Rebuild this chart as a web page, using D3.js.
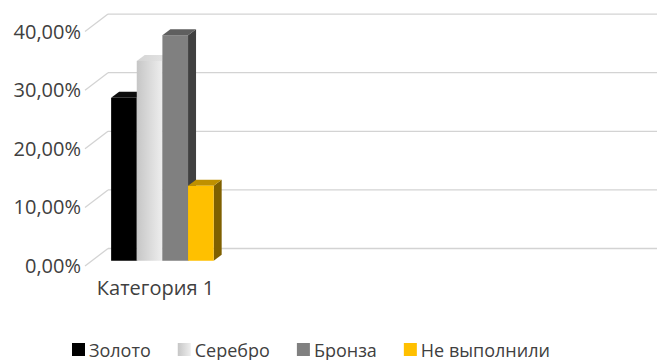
<!DOCTYPE html>
<html>
<head>
<meta charset="utf-8">
<script src="https://cdn.jsdelivr.net/npm/d3@7"></script>
<style>
  html, body { margin: 0; padding: 0; background: #fff; }
  svg { display: block; }
  text { font-family: "Open Sans", "Noto Sans", sans-serif; fill: #404040; }
</style>
</head>
<body>
<div id="chart"></div>
<script>
// Data
const categories = ["Категория 1"];
const seriesNames = ["Золото", "Серебро", "Бронза", "Не выполнили"];
const seriesValues = [0.278, 0.341, 0.385, 0.128];
const tickValues = [0, 0.1, 0.2, 0.3, 0.4];
const tickLabels = ["0,00%", "10,00%", "20,00%", "30,00%", "40,00%"];

// Face colours per series: front, side, top
const faceColors = [
  { front: "#000000", side: "#000000", top: "#0d0d0d", legend: "#000000" },
  { front: "url(#silverFront)", side: "#a6a6a6", top: "url(#silverTop)", legend: "url(#silverFront)" },
  { front: "#808080", side: "#404040", top: "#5f5f5f", legend: "#808080" },
  { front: "#ffc000", side: "#7f6000", top: "#bf9000", legend: "#ffc000" }
];

const W = 657, H = 360;
const svg = d3.select("#chart").append("svg").attr("width", W).attr("height", H);

const defs = svg.append("defs");
const g1 = defs.append("linearGradient").attr("id", "silverFront")
  .attr("x1", "0").attr("y1", "0").attr("x2", "1").attr("y2", "0");
g1.append("stop").attr("offset", "0").attr("stop-color", "#c6c6c6");
g1.append("stop").attr("offset", "1").attr("stop-color", "#eeeeee");
const g2 = defs.append("linearGradient").attr("id", "silverTop")
  .attr("x1", "0").attr("y1", "0").attr("x2", "1").attr("y2", "0");
g2.append("stop").attr("offset", "0").attr("stop-color", "#d4d4d4");
g2.append("stop").attr("offset", "1").attr("stop-color", "#e6e6e6");

// 3D frame: floor front-left corner, depth vector to the back wall
const floorLeft = 85, floorFrontY = 266;
const depth = { dx: 23, dy: -17.5 };
const plotRight = W;
const categorySlot = 141;

// Value scale on the front plane
const y = d3.scaleLinear().domain([0, 0.4]).range([floorFrontY, 31.6]);

// Category and series scales
const x = d3.scaleBand().domain(categories).range([floorLeft, floorLeft + categorySlot]).paddingInner(0).paddingOuter(0);
const xs = d3.scaleBand().domain(seriesNames).range([0, x.bandwidth()]).paddingInner(0).paddingOuter(0.75);

// Back wall gridlines and side wall diagonals
const grid = svg.append("g").attr("stroke", "#d3d3d3").attr("stroke-width", 1.3).attr("fill", "none");
tickValues.forEach(v => {
  const yf = y(v), yb = yf + depth.dy;
  grid.append("line")
    .attr("x1", floorLeft + depth.dx).attr("x2", plotRight)
    .attr("y1", yb).attr("y2", yb);
  grid.append("line")
    .attr("x1", floorLeft).attr("y1", yf)
    .attr("x2", floorLeft + depth.dx).attr("y2", yb);
});

// Y axis labels
svg.append("g").selectAll("text").data(tickValues).join("text")
  .attr("x", 81).attr("y", d => y(d))
  .attr("dy", "0.35em")
  .attr("text-anchor", "end")
  .attr("font-size", 20)
  .text((d, i) => tickLabels[i]);

// Bars: placed at a fraction of the floor depth, with their own depth
const barFrontOffset = 0.3;           // fraction of floor depth before bar front
const barDepth = { dx: 8, dy: -6 };
const bars = svg.append("g");
categories.forEach(cat => {
  seriesNames.forEach((s, i) => {
    const v = seriesValues[i];
    const ox = depth.dx * barFrontOffset, oy = depth.dy * barFrontOffset;
    const x0 = x(cat) + xs(s) + ox;
    const x1 = x0 + xs.bandwidth();
    const yb = y(0) + oy;
    const yt = y(v) + oy;
    const c = faceColors[i];
    // side face
    bars.append("path")
      .attr("d", `M${x1},${yb}L${x1 + barDepth.dx},${yb + barDepth.dy}L${x1 + barDepth.dx},${yt + barDepth.dy}L${x1},${yt}Z`)
      .attr("fill", c.side);
    // top face
    bars.append("path")
      .attr("d", `M${x0},${yt}L${x0 + barDepth.dx},${yt + barDepth.dy}L${x1 + barDepth.dx},${yt + barDepth.dy}L${x1},${yt}Z`)
      .attr("fill", c.top);
    // front face
    bars.append("rect")
      .attr("x", x0).attr("y", yt)
      .attr("width", xs.bandwidth()).attr("height", yb - yt)
      .attr("fill", c.front);
  });
});

// Category label on the floor front edge
svg.append("g").selectAll("text").data(categories).join("text")
  .attr("x", d => x(d) + x.bandwidth() / 2)
  .attr("y", 295)
  .attr("text-anchor", "middle")
  .attr("font-size", 20)
  .text(d => d);

// Legend
const legend = svg.append("g");
let cx = 72;
seriesNames.forEach((s, i) => {
  legend.append("rect")
    .attr("x", cx).attr("y", 343).attr("width", 13).attr("height", 13)
    .attr("fill", faceColors[i].legend);
  const t = legend.append("text")
    .attr("x", cx + 17).attr("y", 357)
    .attr("font-size", 18)
    .text(s);
  cx += 17 + t.node().getComputedTextLength() + 27;
});
</script>
</body>
</html>
